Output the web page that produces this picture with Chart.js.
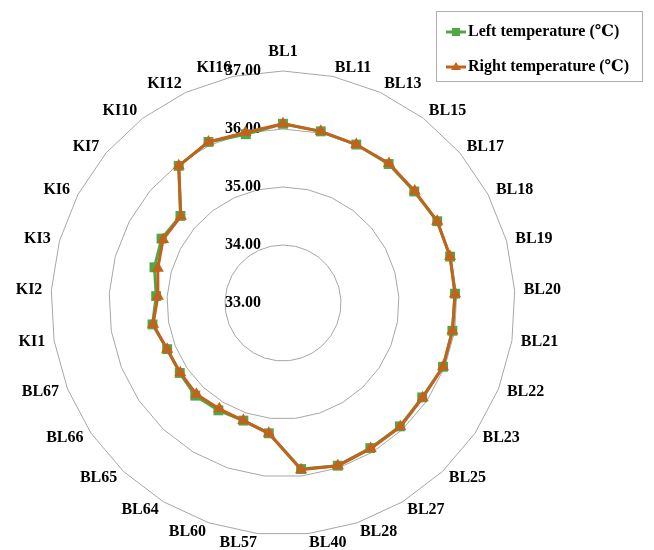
<!DOCTYPE html>
<html>
<head>
<meta charset="utf-8">
<script src="https://cdn.jsdelivr.net/npm/chart.js@4/dist/chart.umd.min.js"></script>
<style>
  body { margin: 0; background: #fff; }
</style>
</head>
<body>
<canvas id="radarChart" width="654" height="550"></canvas>
<script>
// Acupoint names round the radar
const points = ['BL1', 'BL11', 'BL13', 'BL15', 'BL17', 'BL18', 'BL19', 'BL20', 'BL21', 'BL22',
    'BL23', 'BL25', 'BL27', 'BL28', 'BL40', 'BL57', 'BL60', 'BL64', 'BL65', 'BL66',
    'BL67', 'KI1', 'KI2', 'KI3', 'KI6', 'KI7', 'KI10', 'KI12', 'KI16'];

// Temperatures
const leftTemp = [36.09, 36.03, 36.01, 36.01, 35.97, 36.01, 35.99, 35.97, 35.96, 35.97,
    35.90, 35.93, 35.92, 35.96, 35.88, 35.26, 35.14, 35.16, 35.20, 35.15,
    35.15, 35.28, 35.19, 35.30, 35.37, 35.32, 35.97, 36.06, 35.98];
const rightTemp = [36.09, 36.03, 36.01, 36.02, 35.98, 36.01, 35.99, 35.97, 35.96, 35.97,
    35.91, 35.94, 35.93, 35.96, 35.89, 35.26, 35.14, 35.13, 35.17, 35.14,
    35.15, 35.27, 35.16, 35.24, 35.34, 35.31, 35.97, 36.06, 36.01];

const tickValues = [33, 34, 35, 36, 37];

const green = '#4fa845';
const orange = '#c2621d';
const labelFont = 'bold 16px "Liberation Serif", "DejaVu Serif", serif';

// tick labels sit left of the vertical axis (drawn under the lines)
const tickLabelPlugin = {
    id: 'tickLabels',
    beforeDatasetsDraw(chart) {
        const scale = chart.scales.r;
        const ctx = chart.ctx;
        ctx.save();
        ctx.font = labelFont;
        ctx.fillStyle = '#000';
        ctx.textAlign = 'right';
        ctx.textBaseline = 'middle';
        tickValues.forEach(v => {
            const y = scale.yCenter - scale.getDistanceFromCenterForValue(v);
            ctx.fillText(v.toFixed(2), scale.xCenter - 22, y);
        });
        ctx.restore();
    }
};

// point labels placed like the original (left / right aligned, centred on the ray)
const pointLabelPlugin = {
    id: 'pointLabelsCustom',
    afterDraw(chart) {
        const scale = chart.scales.r;
        const ctx = chart.ctx;
        ctx.save();
        ctx.font = labelFont;
        ctx.fillStyle = '#000';
        points.forEach((name, i) => {
            const pos = scale.getPointPosition(i, scale.drawingArea + 9);
            if (i === 0) {
                ctx.textAlign = 'center';
                ctx.textBaseline = 'bottom';
                ctx.fillText(name, pos.x, pos.y - 2);
            } else {
                ctx.textAlign = pos.x > scale.xCenter ? 'left' : 'right';
                ctx.textBaseline = 'middle';
                ctx.fillText(name, pos.x, pos.y);
            }
        });
        ctx.restore();
    }
};

// boxed legend in the top right corner
const boxLegendPlugin = {
    id: 'boxLegend',
    afterDraw(chart) {
        const ctx = chart.ctx;
        ctx.save();
        ctx.strokeStyle = '#b0b0b0';
        ctx.lineWidth = 1;
        ctx.strokeRect(436.5, 11.5, 206, 70);
        ctx.font = labelFont;
        ctx.textAlign = 'left';
        ctx.textBaseline = 'middle';
        chart.data.datasets.forEach((ds, k) => {
            const y = 32 + k * 35;
            ctx.strokeStyle = ds.borderColor;
            ctx.lineWidth = 3;
            ctx.beginPath();
            ctx.moveTo(446, y);
            ctx.lineTo(466, y);
            ctx.stroke();
            ctx.fillStyle = ds.borderColor;
            if (ds.pointStyle === 'rect') {
                ctx.fillRect(452, y - 4, 8, 8);
            } else {
                ctx.beginPath();
                ctx.moveTo(456, y - 5);
                ctx.lineTo(461, y + 3);
                ctx.lineTo(451, y + 3);
                ctx.closePath();
                ctx.fill();
            }
            ctx.fillStyle = '#000';
            ctx.fillText(ds.label, 468, y);
        });
        ctx.restore();
    }
};

const ctx = document.getElementById('radarChart').getContext('2d');
new Chart(ctx, {
    type: 'radar',
    data: {
        labels: points,
        datasets: [{
            label: 'Left temperature (℃)',
            data: leftTemp,
            borderColor: green,
            backgroundColor: green,
            pointBackgroundColor: green,
            pointBorderColor: green,
            pointStyle: 'rect',
            pointRadius: 7,
            pointBorderWidth: 0,
            borderWidth: 3,
            fill: false,
            order: 1
        }, {
            label: 'Right temperature (℃)',
            data: rightTemp,
            borderColor: orange,
            backgroundColor: orange,
            pointBackgroundColor: orange,
            pointBorderColor: orange,
            pointStyle: 'triangle',
            pointRadius: 7,
            pointBorderWidth: 0,
            borderWidth: 3,
            fill: false,
            order: 0
        }]
    },
    options: {
        responsive: false,
        animation: false,
        layout: {
            padding: { left: 51, top: 71, right: 139, bottom: 15 }
        },
        plugins: {
            legend: { display: false },
            tooltip: { enabled: false }
        },
        elements: {
            line: { tension: 0 }
        },
        scales: {
            r: {
                min: tickValues[0],
                max: tickValues[tickValues.length - 1],
                ticks: { stepSize: 1, display: false },
                grid: { color: '#a6a6a6', lineWidth: 1, circular: false },
                angleLines: { display: false },
                pointLabels: { display: false }
            }
        }
    },
    plugins: [tickLabelPlugin, pointLabelPlugin, boxLegendPlugin]
});
</script>
</body>
</html>
